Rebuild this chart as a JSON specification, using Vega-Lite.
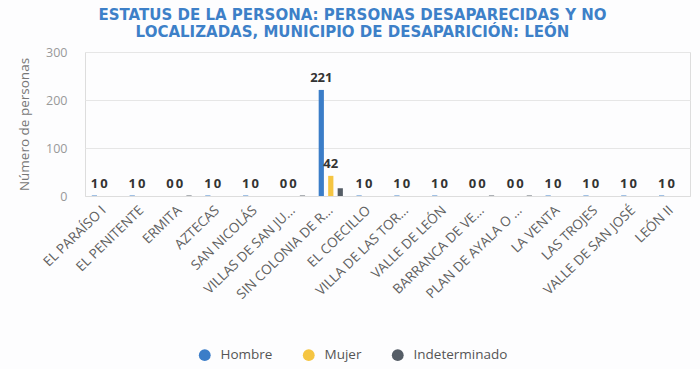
{
  "$schema": "https://vega.github.io/schema/vega-lite/v6.json",
  "width": 605,
  "height": 144,
  "autosize": {"type": "none"},
  "padding": {"left": 85, "top": 52, "right": 10, "bottom": 173},
  "background": "#fdfdfe",
  "title": {
    "text": ["ESTATUS DE LA PERSONA: PERSONAS DESAPARECIDAS Y NO", "LOCALIZADAS, MUNICIPIO DE DESAPARICIÓN: LEÓN"],
    "font": "DejaVu Sans",
    "fontSize": 15,
    "fontWeight": "bold",
    "color": "#3d80c8",
    "lineHeight": 17,
    "anchor": "middle",
    "dx": -35,
    "offset": 6
  },
  "data": {
    "values": [
      {"colonia": "EL PARAÍSO I", "sexo": "Hombre", "n": 1},
      {"colonia": "EL PARAÍSO I", "sexo": "Mujer", "n": 0},
      {"colonia": "EL PARAÍSO I", "sexo": "Indeterminado", "n": 0},
      {"colonia": "EL PENITENTE", "sexo": "Hombre", "n": 1},
      {"colonia": "EL PENITENTE", "sexo": "Mujer", "n": 0},
      {"colonia": "EL PENITENTE", "sexo": "Indeterminado", "n": 0},
      {"colonia": "ERMITA", "sexo": "Hombre", "n": 0},
      {"colonia": "ERMITA", "sexo": "Mujer", "n": 0},
      {"colonia": "ERMITA", "sexo": "Indeterminado", "n": 1},
      {"colonia": "AZTECAS", "sexo": "Hombre", "n": 1},
      {"colonia": "AZTECAS", "sexo": "Mujer", "n": 0},
      {"colonia": "AZTECAS", "sexo": "Indeterminado", "n": 0},
      {"colonia": "SAN NICOLÁS", "sexo": "Hombre", "n": 1},
      {"colonia": "SAN NICOLÁS", "sexo": "Mujer", "n": 0},
      {"colonia": "SAN NICOLÁS", "sexo": "Indeterminado", "n": 0},
      {"colonia": "VILLAS DE SAN JU...", "sexo": "Hombre", "n": 0},
      {"colonia": "VILLAS DE SAN JU...", "sexo": "Mujer", "n": 0},
      {"colonia": "VILLAS DE SAN JU...", "sexo": "Indeterminado", "n": 1},
      {"colonia": "SIN COLONIA DE R...", "sexo": "Hombre", "n": 221},
      {"colonia": "SIN COLONIA DE R...", "sexo": "Mujer", "n": 42},
      {"colonia": "SIN COLONIA DE R...", "sexo": "Indeterminado", "n": 16},
      {"colonia": "EL COECILLO", "sexo": "Hombre", "n": 1},
      {"colonia": "EL COECILLO", "sexo": "Mujer", "n": 0},
      {"colonia": "EL COECILLO", "sexo": "Indeterminado", "n": 0},
      {"colonia": "VILLA DE LAS TOR...", "sexo": "Hombre", "n": 1},
      {"colonia": "VILLA DE LAS TOR...", "sexo": "Mujer", "n": 0},
      {"colonia": "VILLA DE LAS TOR...", "sexo": "Indeterminado", "n": 0},
      {"colonia": "VALLE DE LEÓN", "sexo": "Hombre", "n": 1},
      {"colonia": "VALLE DE LEÓN", "sexo": "Mujer", "n": 0},
      {"colonia": "VALLE DE LEÓN", "sexo": "Indeterminado", "n": 0},
      {"colonia": "BARRANCA DE VE...", "sexo": "Hombre", "n": 0},
      {"colonia": "BARRANCA DE VE...", "sexo": "Mujer", "n": 0},
      {"colonia": "BARRANCA DE VE...", "sexo": "Indeterminado", "n": 1},
      {"colonia": "PLAN DE AYALA O ...", "sexo": "Hombre", "n": 0},
      {"colonia": "PLAN DE AYALA O ...", "sexo": "Mujer", "n": 0},
      {"colonia": "PLAN DE AYALA O ...", "sexo": "Indeterminado", "n": 1},
      {"colonia": "LA VENTA", "sexo": "Hombre", "n": 1},
      {"colonia": "LA VENTA", "sexo": "Mujer", "n": 0},
      {"colonia": "LA VENTA", "sexo": "Indeterminado", "n": 0},
      {"colonia": "LAS TROJES", "sexo": "Hombre", "n": 1},
      {"colonia": "LAS TROJES", "sexo": "Mujer", "n": 0},
      {"colonia": "LAS TROJES", "sexo": "Indeterminado", "n": 0},
      {"colonia": "VALLE DE SAN JOSÉ", "sexo": "Hombre", "n": 1},
      {"colonia": "VALLE DE SAN JOSÉ", "sexo": "Mujer", "n": 0},
      {"colonia": "VALLE DE SAN JOSÉ", "sexo": "Indeterminado", "n": 0},
      {"colonia": "LEÓN II", "sexo": "Hombre", "n": 1},
      {"colonia": "LEÓN II", "sexo": "Mujer", "n": 0},
      {"colonia": "LEÓN II", "sexo": "Indeterminado", "n": 0}
    ]
  },
  "encoding": {
    "x": {
      "field": "colonia",
      "type": "nominal",
      "sort": null,
      "scale": {"paddingInner": 0.36, "paddingOuter": 0.18},
      "axis": {
        "title": null,
        "labelAngle": -44,
        "labelAlign": "right",
        "labelBaseline": "middle",
        "labelFont": "Open Sans",
        "labelFontSize": 13.5,
        "labelColor": "#606060",
        "labelPadding": 12,
        "ticks": false,
        "domainColor": "#dddddd",
        "labelOverlap": false
      }
    },
    "xOffset": {
      "field": "sexo",
      "type": "nominal",
      "sort": ["Hombre", "Mujer", "Indeterminado"],
      "scale": {"paddingInner": 0.45}
    },
    "y": {
      "field": "n",
      "type": "quantitative",
      "scale": {"domain": [0, 300]},
      "axis": {
        "title": "Número de personas",
        "titleFont": "Open Sans",
        "titleFontSize": 13.5,
        "titleFontWeight": "normal",
        "titleColor": "#777",
        "titlePadding": 14,
        "values": [0, 100, 200, 300],
        "labelFont": "Open Sans",
        "labelFontSize": 12.5,
        "labelColor": "#999",
        "labelPadding": 18,
        "ticks": false,
        "domain": false,
        "gridColor": "#e6e6e6"
      }
    }
  },
  "layer": [
    {
      "mark": {"type": "bar"},
      "encoding": {
        "color": {
          "field": "sexo",
          "type": "nominal",
          "sort": ["Hombre", "Mujer", "Indeterminado"],
          "scale": {"domain": ["Hombre", "Mujer", "Indeterminado"], "range": ["#3b7dc8", "#f5c542", "#555d66"]},
          "legend": {
            "title": null,
            "orient": "none",
            "direction": "horizontal",
            "legendX": 113,
            "legendY": 296,
            "symbolType": "circle",
            "symbolSize": 140,
            "symbolStrokeWidth": 0,
            "labelFont": "Open Sans",
            "labelFontSize": 13.5,
            "labelColor": "#555",
            "columnPadding": 29,
            "labelOffset": 9
          }
        }
      }
    },
    {
      "transform": [{"filter": "datum.sexo != 'Indeterminado'"}],
      "mark": {"type": "text", "baseline": "bottom", "dy": -5, "font": "Open Sans", "fontSize": 13, "fontWeight": "bold", "color": "#333"},
      "encoding": {
        "text": {"field": "n", "type": "quantitative"}
      }
    }
  ]
}
